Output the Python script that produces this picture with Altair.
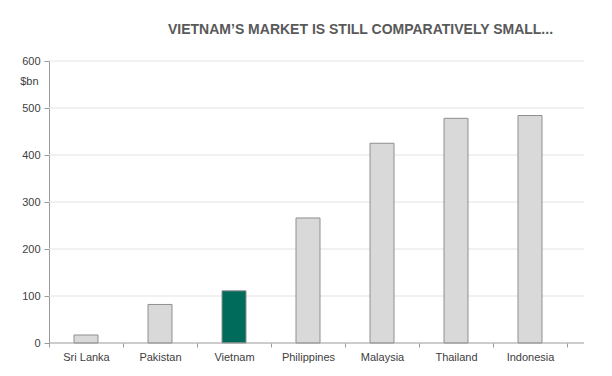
import altair as alt
import pandas as pd

countries = ["Sri Lanka", "Pakistan", "Vietnam", "Philippines", "Malaysia", "Thailand", "Indonesia"]
values = [17, 82, 111, 266, 425, 478, 484]
groups = ["Other", "Other", "Vietnam", "Other", "Other", "Other", "Other"]
grid_values = [100, 200, 300, 400, 500, 600]
tick_values = [0, 100, 200, 300, 400, 500, 600]

df = pd.DataFrame({"country": countries, "value": values, "group": groups})
grid_df = pd.DataFrame({"value": grid_values})
base_df = pd.DataFrame({"value": [0]})

FONT = "Liberation Sans"
W, H = 518, 282

y_scale = alt.Scale(domain=[0, 600], nice=False)
y_axis = alt.Axis(
    values=tick_values, grid=False, domainColor="#9a9a9a", tickColor="#9a9a9a",
    tickSize=5, labelPadding=4, labelFont=FONT, labelFontSize=11, labelColor="#404040",
    title="$bn", titleAngle=0, titleAlign="right", titleBaseline="middle",
    titleX=-11, titleY=20, titleFont=FONT, titleFontSize=11,
    titleFontWeight="normal", titleColor="#404040",
)


def yenc():
    return alt.Y("value:Q", scale=y_scale, axis=y_axis)


grid = alt.Chart(grid_df).mark_rule(color="#e3e3e3", strokeWidth=1).encode(
    y=yenc(),
    x=alt.value(0),
    x2=alt.value(535),
)

bars = alt.Chart(df).mark_bar(size=24, stroke="#8f8f8f", strokeWidth=1).encode(
    x=alt.X(
        "country:N",
        sort=countries,
        scale=alt.Scale(paddingInner=0, paddingOuter=0),
        axis=alt.Axis(
            title=None, domain=False, tickBand="extent", labelAngle=0,
            tickColor="#9a9a9a", tickSize=4, labelPadding=4,
            labelFont=FONT, labelFontSize=11, labelColor="#404040",
        ),
    ),
    y=yenc(),
    fill=alt.Color(
        "group:N",
        scale=alt.Scale(domain=["Other", "Vietnam"], range=["#d9d9d9", "#006b5a"]),
        legend=None,
    ),
)

base = alt.Chart(base_df).mark_rule(color="#9a9a9a", strokeWidth=1).encode(
    y=yenc(),
    x=alt.value(0),
    x2=alt.value(535),
)

chart = alt.layer(grid, bars, base).properties(
    width=W,
    height=H,
    background="white",
    autosize=alt.AutoSizeParams(type="none"),
    padding={"left": 49, "top": 61, "right": 45, "bottom": 33},
    title=alt.TitleParams(
        text="VIETNAM\u2019S MARKET IS STILL COMPARATIVELY SMALL...",
        anchor="start", frame="group", dx=119, offset=4, baseline="bottom",
        font=FONT, fontSize=14, fontWeight="bold", color="#595959",
    ),
).configure_view(stroke=None)

chart.save("out.html", embed_options={"renderer": "svg", "actions": False})
